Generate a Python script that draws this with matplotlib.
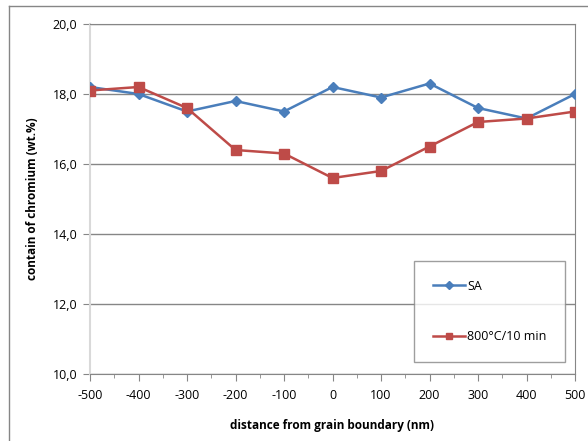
import matplotlib.pyplot as plt
from matplotlib.lines import Line2D
from matplotlib.ticker import MultipleLocator, FuncFormatter

# data
distance = [-500, -400, -300, -200, -100, 0, 100, 200, 300, 400, 500]
sa = [18.2, 18.0, 17.5, 17.8, 17.5, 18.2, 17.9, 18.3, 17.6, 17.3, 18.0]
aged = [18.1, 18.2, 17.6, 16.4, 16.3, 15.6, 15.8, 16.5, 17.2, 17.3, 17.5]

W, H = 588, 441
fig = plt.figure(figsize=(W / 100, H / 100), dpi=100)
plt.rcParams['font.family'] = ['Open Sans', 'DejaVu Sans']
plt.rcParams['axes.unicode_minus'] = False

# plot area in pixels: left 90, right 575, top 24, bottom 374
ax = fig.add_axes([90 / W, 1 - 374 / H, (575 - 90) / W, (374 - 24) / H])

blue = '#4A7EBB'
red = '#BE4B48'
ax.plot(distance, sa, color=blue, lw=1.8, marker='D', ms=5, mfc=blue, mec=blue, label='SA', zorder=3)
ax.plot(distance, aged, color=red, lw=1.8, marker='s', ms=6.5, mfc=red, mec=red, label='800°C/10 min', zorder=3)

ax.set_xlim(-500, 500)
ax.set_ylim(10, 20)
ax.xaxis.set_major_locator(MultipleLocator(100))
ax.xaxis.set_minor_locator(MultipleLocator(50))
ax.yaxis.set_major_locator(MultipleLocator(2))
ax.xaxis.set_major_formatter(FuncFormatter(lambda v, p: f'{v:.0f}'))
ax.yaxis.set_major_formatter(FuncFormatter(lambda v, p: f'{v:.1f}'.replace('.', ',')))

ax.grid(axis='y', color='#868686', lw=1)
ax.set_axisbelow(True)
for s in ['top', 'right']:
    ax.spines[s].set_color('#868686')
ax.spines['left'].set_color('#D9D9D9')
ax.spines['left'].set_linewidth(1.5)
ax.spines['bottom'].set_color('#868686')
ax.tick_params(axis='x', which='major', length=5, color='#868686', labelsize=9, pad=6)
ax.tick_params(axis='x', which='minor', length=3, color='#868686')
ax.tick_params(axis='y', length=5, color='#868686', labelsize=9, pad=4)

ax.set_xlabel('distance from grain boundary (nm)', fontsize=8.5, fontweight='bold', labelpad=12)
ax.set_ylabel('contain of chromium (wt.%)', fontsize=8.5, fontweight='bold', labelpad=10)

leg = ax.legend(loc='upper left', bbox_to_anchor=((414 - 90) / 485, (374 - 261) / 350),
                frameon=True, fancybox=False, edgecolor='#868686', fontsize=9,
                labelspacing=3.0, borderpad=1.5, handlelength=2.6, handletextpad=0.15,
                borderaxespad=0, markerscale=0.75)
leg.get_frame().set_linewidth(1)

# outer chart frame (top and left edges visible)
fig.add_artist(Line2D([9 / W, 1], [1 - 6 / H, 1 - 6 / H], color='#868686', lw=1))
fig.add_artist(Line2D([9 / W, 9 / W], [0, 1 - 6 / H], color='#868686', lw=1))

fig.savefig('out.png', dpi=100)
